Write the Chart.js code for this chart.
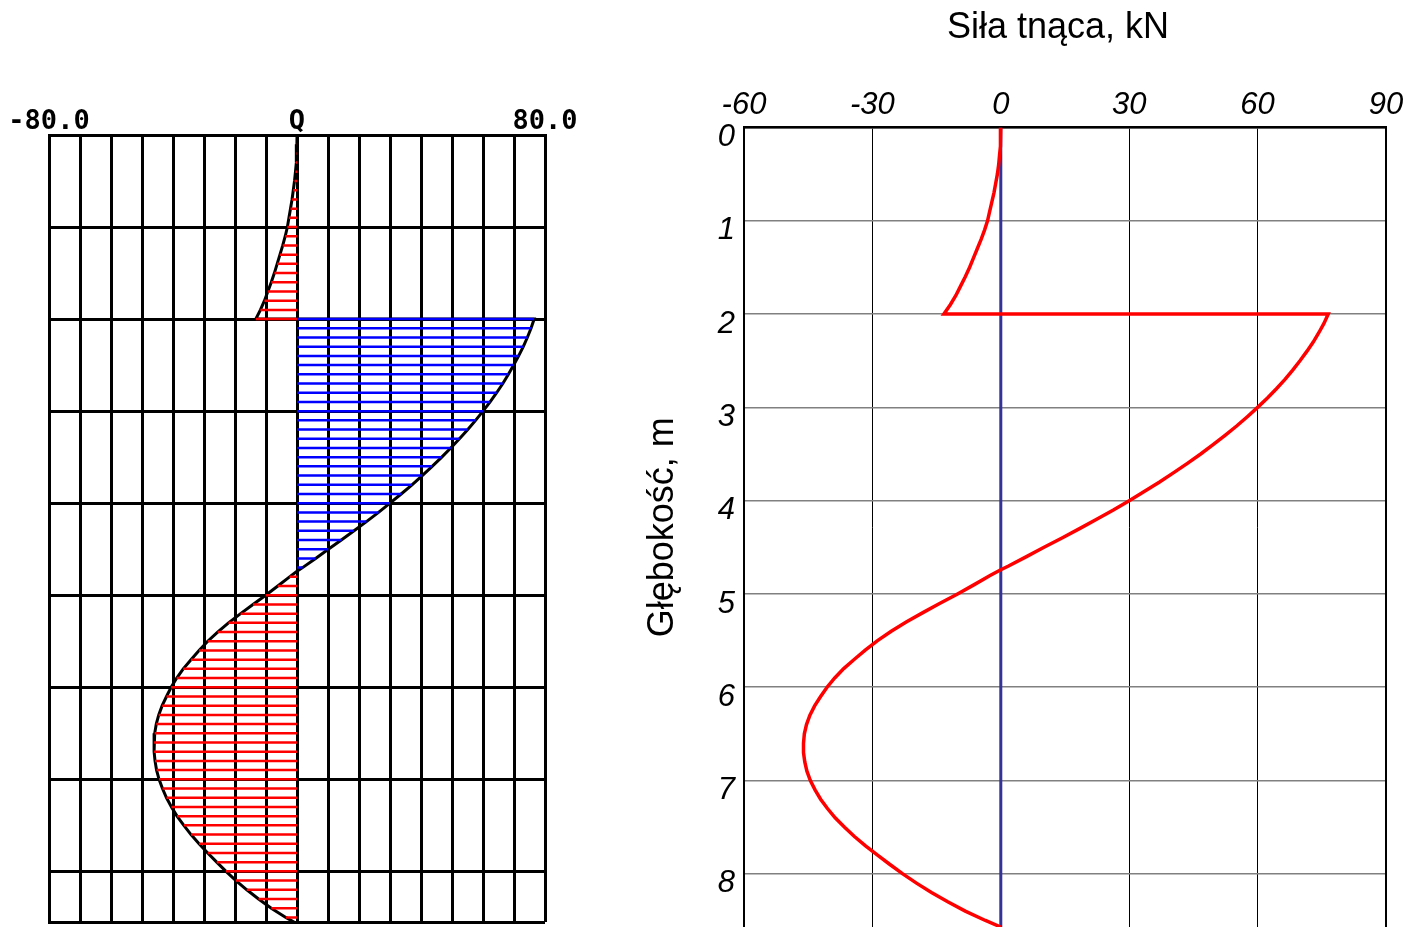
<!DOCTYPE html>
<html>
<head>
<meta charset="utf-8">
<script src="https://cdn.jsdelivr.net/npm/chart.js@4.4.1/dist/chart.umd.min.js"></script>
<style>
  html, body { margin: 0; padding: 0; background: #fff; overflow: hidden; width: 1420px; height: 927px; }
  #leftBox { position: absolute; left: 0; top: 0; width: 600px; height: 927px; }
  #rightBox { position: absolute; left: 600px; top: 0; width: 916px; height: 967px; }
</style>
</head>
<body>
<div id="leftBox"><canvas id="leftChart" width="600" height="927"></canvas></div>
<div id="rightBox"><canvas id="rightChart" width="916" height="967"></canvas></div>
<script>
// ---- Data: shear force Q [kN] versus depth [m] ----
const depthTop = [0, 0.1, 0.2, 0.3, 0.4, 0.5, 0.6, 0.7, 0.8, 0.9, 1.0, 1.1, 1.2, 1.3, 1.4, 1.5, 1.6, 1.7, 1.8, 1.9, 2.0];
const shearTop = [0, -0.03, -0.13, -0.3, -0.5, -0.8, -1.2, -1.6, -2.1, -2.6, -3.1, -3.8, -4.6, -5.5, -6.4, -7.3, -8.3, -9.4, -10.5, -11.8, -13.3];

const depthMid = [2.0, 2.1, 2.2, 2.3, 2.4, 2.5, 2.6, 2.7, 2.8, 2.9, 3.0, 3.1, 3.2, 3.3, 3.4, 3.5, 3.6, 3.7, 3.8, 3.9, 4.0, 4.1, 4.2, 4.3, 4.4, 4.5, 4.6, 4.7, 4.74];
const shearMid = [76.5, 75.5, 74.3, 73.0, 71.5, 69.9, 68.2, 66.4, 64.4, 62.3, 60.0, 57.6, 55.1, 52.4, 49.6, 46.7, 43.6, 40.4, 37.1, 33.6, 30.0, 26.3, 22.4, 18.4, 14.3, 10.1, 6.0, 1.8, 0];

const depthBottom = [4.8, 4.9, 5.0, 5.1, 5.2, 5.3, 5.4, 5.5, 5.6, 5.7, 5.8, 5.9, 6.0, 6.1, 6.2, 6.3, 6.4, 6.5, 6.6, 6.7, 6.8, 6.9, 7.0, 7.1, 7.2, 7.3, 7.4, 7.5, 7.6, 7.7, 7.8, 7.9, 8.0, 8.1, 8.2, 8.3, 8.4, 8.5, 8.57];
const shearBottom = [-2.4, -6.2, -10.1, -14.2, -18.2, -22.1, -25.6, -28.8, -31.6, -34.2, -36.7, -38.8, -40.6, -42.1, -43.5, -44.6, -45.4, -45.9, -46.1, -46.1, -45.8, -45.3, -44.5, -43.4, -42.1, -40.5, -38.7, -36.5, -34.2, -31.6, -28.8, -25.9, -22.9, -19.7, -16.2, -12.4, -8.3, -3.6, 0];

const zeroLineDepth = [0, 8.57];
const zeroLineValue = [0, 0];

// tick labels
const leftTickValues = [-80, 0, 80];
const leftTickLabels = ['-80.0', 'Q', '80.0'];
const rightXTickValues = [-60, -30, 0, 30, 60, 90];
const rightXTickLabels = ['-60', '-30', '0', '30', '60', '90'];
const depthTickValues = [0, 1, 2, 3, 4, 5, 6, 7, 8];
const depthTickLabels = ['0', '1', '2', '3', '4', '5', '6', '7', '8'];

const titleText = 'Siła tnąca, kN';
const depthTitle = 'Głębokość, m';

// ---- Build points ----
const allDepth = depthTop.concat(depthMid, depthBottom);
const allShear = shearTop.concat(shearMid, shearBottom);
const profile = allDepth.map((d, i) => ({ x: allShear[i], y: d }));
const zeroLine = zeroLineDepth.map((d, i) => ({ x: zeroLineValue[i], y: d }));

function hatch(positive) {
  const pts = [];
  allDepth.forEach((d, i) => {
    const v = allShear[i];
    if (positive ? v > 0 : v < 0) {
      pts.push({ x: 0, y: d }, { x: v, y: d }, { x: null, y: null });
    }
  });
  return pts;
}

Chart.defaults.animation = false;
Chart.defaults.color = '#000';

// ---- Left chart (hatched diagram) ----
new Chart(document.getElementById('leftChart'), {
  type: 'scatter',
  data: {
    datasets: [
      { data: hatch(false), showLine: true, borderColor: '#ff0000', borderWidth: 2.5, pointRadius: 0, spanGaps: false },
      { data: hatch(true), showLine: true, borderColor: '#0000ff', borderWidth: 2.5, pointRadius: 0, spanGaps: false },
      { data: profile, showLine: true, borderColor: '#000000', borderWidth: 3, pointRadius: 0 }
    ]
  },
  options: {
    responsive: false,
    devicePixelRatio: 1,
    animation: false,
    layout: { padding: { left: 0, right: 55, top: 0, bottom: 5 } },
    plugins: { legend: { display: false }, tooltip: { enabled: false }, title: { display: false } },
    scales: {
      x: {
        type: 'linear', position: 'top', min: -80, max: 80, z: 1,
        ticks: {
          stepSize: 10, autoSkip: false, maxRotation: 0, padding: -3,
          font: { family: 'DejaVu Sans Mono', size: 27, weight: 'bold' }, color: '#000',
          callback: (v) => { const k = leftTickValues.indexOf(v); return k >= 0 ? leftTickLabels[k] : ''; }
        },
        grid: { color: '#000', lineWidth: 3, drawTicks: false },
        border: { color: '#000', width: 3 },
        afterFit: (s) => { s.height = 135; }
      },
      y: {
        type: 'linear', position: 'left', min: 0, max: 8.55, reverse: true, z: 1,
        ticks: { stepSize: 1, display: false },
        grid: { color: '#000', lineWidth: 3, drawTicks: false },
        border: { color: '#000', width: 3 },
        afterFit: (s) => { s.width = 49; }
      }
    }
  }
});

// ---- Right chart (line chart) ----
new Chart(document.getElementById('rightChart'), {
  type: 'scatter',
  data: {
    datasets: [
      { data: profile, showLine: true, borderColor: '#ff0000', borderWidth: 3.5, pointRadius: 0, tension: 0 },
      { data: zeroLine, showLine: true, borderColor: '#33339a', borderWidth: 3, pointRadius: 0 }
    ]
  },
  options: {
    responsive: false,
    devicePixelRatio: 1,
    animation: false,
    layout: { padding: { left: 0, right: 0, top: 0, bottom: 40 } },
    plugins: {
      legend: { display: false },
      tooltip: { enabled: false },
      title: {
        display: true, text: titleText, color: '#000',
        font: { family: 'Liberation Sans', size: 36, weight: 'normal' },
        padding: { top: 6, bottom: 0 }
      }
    },
    scales: {
      x: {
        type: 'linear', position: 'top', min: -60, max: 90,
        ticks: {
          stepSize: 30, autoSkip: false, maxRotation: 0, padding: 4,
          font: { family: 'Liberation Sans', size: 31, style: 'italic' }, color: '#000',
          callback: (v) => { const k = rightXTickValues.indexOf(v); return k >= 0 ? rightXTickLabels[k] : ''; }
        },
        grid: { color: '#000', lineWidth: 1, drawTicks: false },
        border: { color: '#000', width: 2.5 },
        afterFit: (s) => { s.height = 78.3; }
      },
      y: {
        type: 'linear', position: 'left', min: 0, max: 8.57, reverse: true,
        afterBuildTicks: (s) => { s.ticks = s.ticks.filter(t => depthTickValues.includes(t.value)); },
        ticks: {
          stepSize: 1, padding: 9, labelOffset: 10,
          font: { family: 'Liberation Sans', size: 31, style: 'italic' }, color: '#000',
          callback: (v) => { const k = depthTickValues.indexOf(v); return k >= 0 ? depthTickLabels[k] : ''; }
        },
        title: {
          display: true, text: depthTitle, color: '#000',
          font: { family: 'Liberation Sans', size: 36, weight: 'normal' },
          padding: { top: 41, bottom: 0 }
        },
        grid: { color: '#808080', lineWidth: 1.5, drawTicks: false },
        border: { color: '#000', width: 2 },
        afterFit: (s) => { s.width = 144; }
      },
      y2: {
        type: 'linear', position: 'right', display: true,
        ticks: { display: false },
        grid: { display: false, drawTicks: false },
        border: { display: true, color: '#000', width: 2 },
        afterFit: (s) => { s.width = 130; }
      }
    }
  }
});
</script>
</body>
</html>
